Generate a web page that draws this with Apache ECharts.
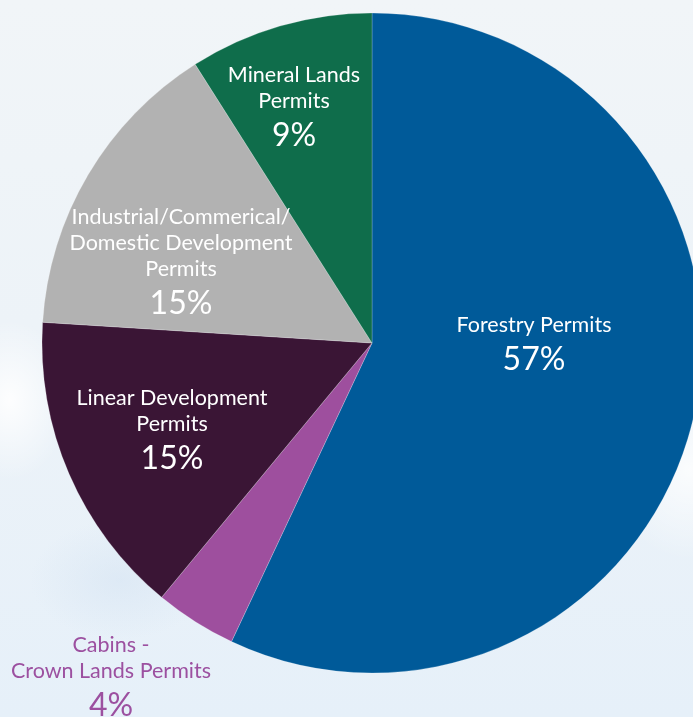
<!DOCTYPE html>
<html>
<head>
<meta charset="utf-8">
<script src="https://cdn.jsdelivr.net/npm/echarts@6/dist/echarts.min.js"></script>
<style>
  html, body { margin: 0; padding: 0; }
  body {
    width: 693px; height: 717px; overflow: hidden;
    background:
      radial-gradient(ellipse 60px 80px at 10px 400px, rgba(255,255,255,0.9), rgba(255,255,255,0) 100%),
      radial-gradient(ellipse 90px 60px at 120px 580px, rgba(205,222,240,0.4), rgba(205,222,240,0) 100%),
      radial-gradient(ellipse 80px 90px at 690px 470px, rgba(255,255,255,0.8), rgba(255,255,255,0) 100%),
      linear-gradient(180deg, #f1f5f8 0%, #edf3f8 45%, #e6f0f9 100%);
  }
  #chart { width: 693px; height: 717px; }
</style>
</head>
<body>
<div id="chart"></div>
<script>
// Permit types, share of all permits (%)
const categories = [
  'Forestry Permits',
  'Cabins - Crown Lands Permits',
  'Linear Development Permits',
  'Industrial/Commerical/Domestic Development Permits',
  'Mineral Lands Permits'
];
const labelNames = [
  'Forestry Permits',
  'Cabins -\nCrown Lands Permits',
  'Linear Development\nPermits',
  'Industrial/Commerical/\nDomestic Development\nPermits',
  'Mineral Lands\nPermits'
];
const shares = [57, 4, 15, 15, 9];

const sliceColors = ['#005a99', '#9e4f9e', '#3a1535', '#b2b2b2', '#0f6d4b'];
// label anchor points (block centres) for each slice
const labelAnchors = [[534, 347], [111, 680], [172, 433], [181, 265], [294, 110]];

const chart = echarts.init(document.getElementById('chart'), null, { renderer: 'canvas' });

const seriesData = categories.map((name, i) => ({
  name: name,
  value: shares[i],
  itemStyle: { color: sliceColors[i] },
  label: i === 1 ? { color: '#9c50a0' } : {}
}));

chart.setOption({
  animation: false,
  series: [{
    type: 'pie',
    center: [372, 343],
    radius: [0, 330],
    startAngle: 90,
    clockwise: true,
    data: seriesData,
    itemStyle: { borderColor: 'rgba(255,255,255,0.35)', borderWidth: 0.6 },
    labelLine: { show: false },
    emphasis: { disabled: true },
    label: {
      show: true,
      position: 'inside',
      color: '#ffffff',
      fontFamily: 'Lato',
      align: 'center',
      verticalAlign: 'middle',
      formatter: p => '{n|' + labelNames[p.dataIndex].split('\n').join('}\n{n|') + '}\n{p|' + p.value + '%}',
      rich: {
        n: { fontFamily: 'Lato', fontSize: 21.5, lineHeight: 26, align: 'center' },
        p: { fontFamily: 'Lato', fontSize: 32, lineHeight: 44, align: 'center' }
      }
    },
    labelLayout: params => ({
      x: labelAnchors[params.dataIndex][0],
      y: labelAnchors[params.dataIndex][1],
      align: 'center',
      verticalAlign: 'middle'
    })
  }]
});
</script>
</body>
</html>
